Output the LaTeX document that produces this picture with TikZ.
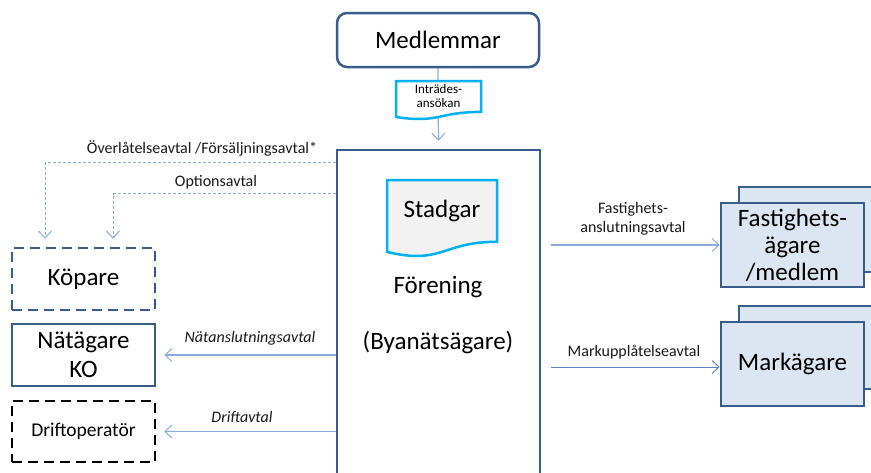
\documentclass[tikz,border=0pt]{standalone}
\usepackage{fontspec}
\setmainfont{Carlito}
\usetikzlibrary{arrows.meta}
\definecolor{boxline}{HTML}{385D8A}
\definecolor{boxfill}{HTML}{DCE6F2}
\definecolor{conn}{HTML}{8AAEDC}
\definecolor{connd}{HTML}{5A88C2}
\definecolor{docline}{HTML}{00B0F0}
\definecolor{docfill}{HTML}{F2F2F2}
\tikzset{
  bigtext/.style={font=\fontsize{25}{29}\selectfont},
  smalltext/.style={font=\fontsize{16}{19}\selectfont, inner sep=0pt, align=center, text=black!90},
  box/.style={draw=boxline, line width=2.5pt, minimum width=143pt, inner sep=0pt, align=center, bigtext},
  dbox/.style={box, dash pattern=on 10pt off 6pt},
  bluebox/.style={box, fill=boxfill, minimum height=84pt},
  backbox/.style={draw=boxline, line width=2.5pt, fill=boxfill},
  docshape/.style={draw=docline, line width=2.5pt},
  tip/.style={-{Straight Barb[length=7pt,width=13pt,line width=1pt]}},
  connector/.style={draw=conn, line width=1.2pt, tip, shorten >=8pt},
  dconnector/.style={draw=conn, line width=1pt, dash pattern=on 3pt off 2pt, tip, shorten >=8pt},
}
\begin{document}
\begin{tikzpicture}[x=1pt,y=-1pt]
\clip (0,0) rectangle (871,472);
\fill[white] (0,0) rectangle (871,472);

% top
\node[box, rounded corners=10pt, minimum width=202pt, minimum height=54pt] (medl) at (438,40) {Medlemmar};
\node[draw=boxline, line width=2.5pt, minimum width=203pt, minimum height=350pt] (foren) at (438.5,325) {};
\node[bigtext] (forentext) at (438,287) {Förening};
\node[bigtext] (byatext) at (438,342) {(Byanätsägare)};

\draw[connector] (medl.south) -- (foren.north);

% Intrådes-ansökan document
\path[docshape, fill=white] (396,81) -- (481,81) -- (481,111.9)
  .. controls (438.5,111.9) and (438.5,123.6) .. (396,117) -- cycle;
\node[font=\fontsize{13}{14.5}\selectfont, align=center, inner sep=0pt] (intr) at (438.5,96) {Inträdes-\\ansökan};

% Stadgar document
\path[docshape, fill=docfill] (387,180) -- (497,180) -- (497,241.8)
  .. controls (442,241.8) and (442,265.2) .. (387,251.9) -- cycle;
\node[bigtext] (stad) at (442,211) {Stadgar};

% left boxes
\node[dbox, minimum height=62pt] (kop) at (83.5,279) {Köpare};
\node[box, minimum height=62pt, font=\fontsize{25}{29}\selectfont] (nat) at (83.5,355) {Nätägare\\KO};
\node[dbox, draw=black, minimum height=61pt, font=\fontsize{19.5}{22}\selectfont] (drift) at (83.5,431.5) {Driftoperatör};

% right boxes
\draw[backbox] (739,187) rectangle (895,272);
\node[bluebox, font=\fontsize{25}{27}\selectfont] (fast) at (792.5,245) {Fastighets-\\ägare\\/medlem};
\draw[backbox] (739,306) rectangle (895,389);
\node[bluebox] (mark) at (792.5,364) {Markägare};

% dashed connectors
\draw[dconnector] ([yshift=-14pt]foren.north west) -| ([xshift=-38.5pt]kop.north);
\draw[dconnector] ([yshift=-45pt]foren.north west) -| ([xshift=29.5pt]kop.north);
\node[smalltext] (l1) at (202,148) {Överlåtelseavtal /Försäljningsavtal*};
\node[smalltext] (l2) at (216,182) {Optionsavtal};

% left solid connectors
\draw[connector] (foren.west |- nat.east) -- (nat.east);
\node[smalltext, font=\fontsize{16}{19}\selectfont\itshape] (l3) at (250,338) {Nätanslutningsavtal};
\draw[connector] (foren.west |- drift.east) -- (drift.east);
\node[smalltext, font=\fontsize{16}{19}\selectfont\itshape] (l4) at (242,417) {Driftavtal};

% right connectors
\draw[connector, shorten >=0pt] ([xshift=10pt]foren.east |- fast.west) -- (fast.west);
\node[smalltext] (l5) at (633,219) {Fastighets-\\anslutningsavtal};
\draw[connector, shorten >=0pt, draw=connd, line width=1pt] ([xshift=10pt]foren.east |- 0,367) -- (mark.west |- 0,367);
\node[smalltext] (l6) at (634,352) {Markupplåtelseavtal};
\end{tikzpicture}
\end{document}
